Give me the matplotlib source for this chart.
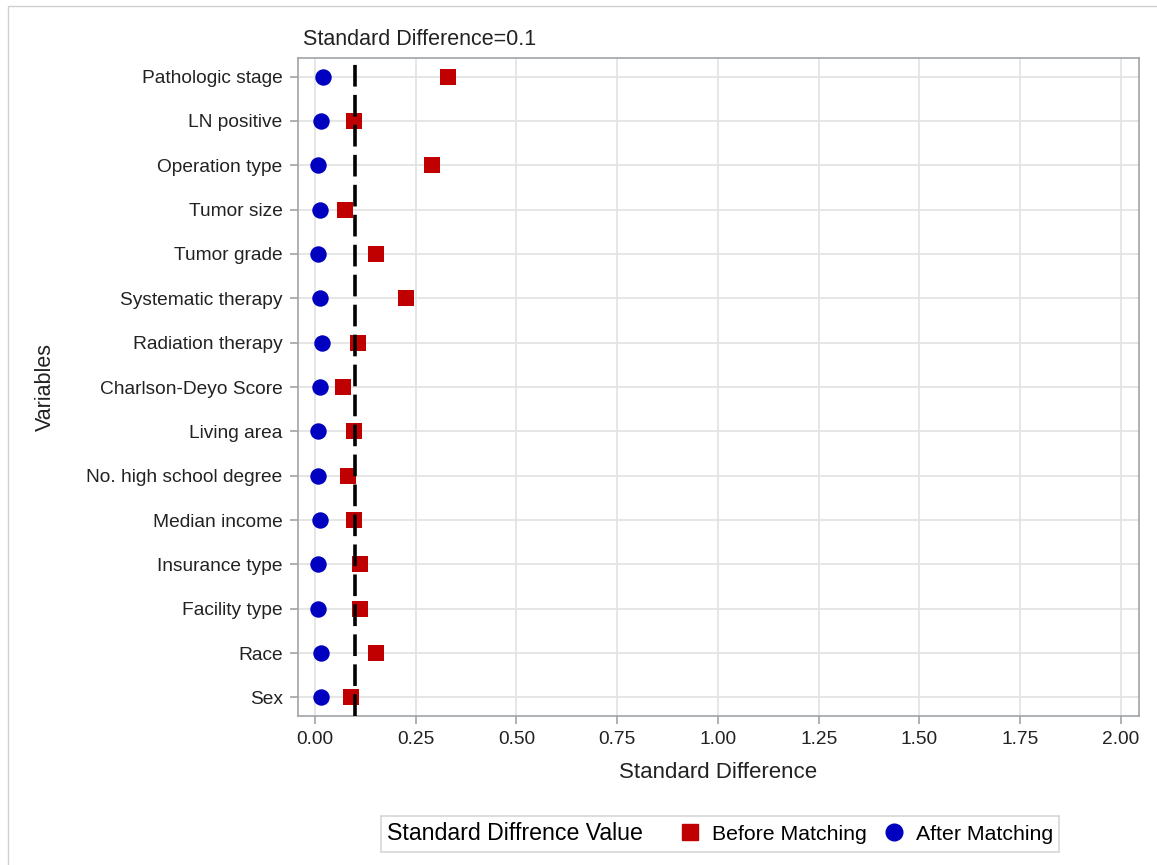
import matplotlib
matplotlib.use("Agg")
import matplotlib.pyplot as plt
from matplotlib.lines import Line2D
from matplotlib.patches import Rectangle
from matplotlib.offsetbox import DrawingArea

plt.rcParams['font.family'] = ['Liberation Sans', 'DejaVu Sans']

variables = ['Pathologic stage', 'LN positive', 'Operation type', 'Tumor size',
             'Tumor grade', 'Systematic therapy', 'Radiation therapy',
             'Charlson-Deyo Score', 'Living area', 'No. high school degree',
             'Median income', 'Insurance type', 'Facility type', 'Race', 'Sex']
before = [0.33, 0.097, 0.29, 0.074, 0.151, 0.226, 0.107, 0.069, 0.097, 0.082,
          0.097, 0.112, 0.112, 0.151, 0.089]
after = [0.020, 0.015, 0.007, 0.012, 0.007, 0.012, 0.017, 0.012, 0.007, 0.007,
         0.012, 0.007, 0.007, 0.015, 0.015]
threshold = 0.1
xticks = [0.0, 0.25, 0.5, 0.75, 1.0, 1.25, 1.5, 1.75, 2.0]

red = '#c00000'
blue = '#0000c0'
spine_col = '#a0a4a8'
txt = '#222222'

fig = plt.figure(figsize=(11.57, 8.65), dpi=100)
ax = fig.add_axes([298 / 1157, 1 - 716 / 865, (1139 - 298) / 1157, (716 - 58) / 865])

# thin frame around the whole graph
fig.patches.append(Rectangle((8 / 1157, -0.01), 1.02, 1 - 6 / 865 + 0.01,
                             transform=fig.transFigure, fill=False,
                             edgecolor='#d0d0d0', linewidth=1))

ypos = list(range(len(variables)))
ax.scatter(before, ypos, marker='s', s=140, color=red, zorder=3, linewidths=0)
ax.scatter(after, ypos, marker='o', s=140, color=blue, zorder=3, linewidths=0)
ax.axvline(threshold, color='black', linewidth=2.6, linestyle=(0, (6, 2.3)), zorder=4)

ax.set_xlim(-0.042, 2.045)
ax.set_ylim(len(variables) - 0.58, -0.42)
ax.set_yticks(ypos)
ax.set_yticklabels(variables)
ax.set_xticks(xticks)
ax.set_xticklabels(['%.2f' % t for t in xticks])
ax.grid(True, color='#e2e2e2', linewidth=1.2, zorder=0)
ax.set_axisbelow(True)
for s in ax.spines.values():
    s.set_color(spine_col)
    s.set_linewidth(1.2)
ax.tick_params(colors=spine_col, labelcolor=txt, labelsize=13.8,
               length=6, width=1.2, pad=5)

ax.set_xlabel('Standard Difference', fontsize=16, color=txt, labelpad=10)
ax.set_ylabel('Variables', fontsize=15.5, color=txt, labelpad=22)
ax.text(0.006, 1.012, 'Standard Difference=0.1', transform=ax.transAxes,
        fontsize=15.5, color=txt, ha='left', va='bottom')

handles = [Line2D([], [], marker='s', color=red, linestyle='none', markersize=12),
           Line2D([], [], marker='o', color=blue, linestyle='none', markersize=12)]
leg = fig.legend(handles, ['Before Matching', 'After Matching'], ncol=2,
                 title='Standard Diffrence Value', loc='center',
                 bbox_to_anchor=(720 / 1157, 1 - 834 / 865), fontsize=15.3,
                 title_fontsize=16.7, frameon=True, fancybox=False,
                 edgecolor='#cccccc', handlelength=0.8, handletextpad=0.6,
                 columnspacing=1.0, borderpad=0.3)
leg.get_frame().set_linewidth(1.2)
# put the legend title to the left of the entries, with a little extra gap
box = leg.get_children()[0]
title_box, entries = box.get_children()[0], box.get_children()[1]
box._children = [entries]
entries._children = [title_box, DrawingArea(0, 0)] + entries.get_children()
entries.sep = 14
entries.align = 'center'

fig.savefig('out.png', dpi=100)
